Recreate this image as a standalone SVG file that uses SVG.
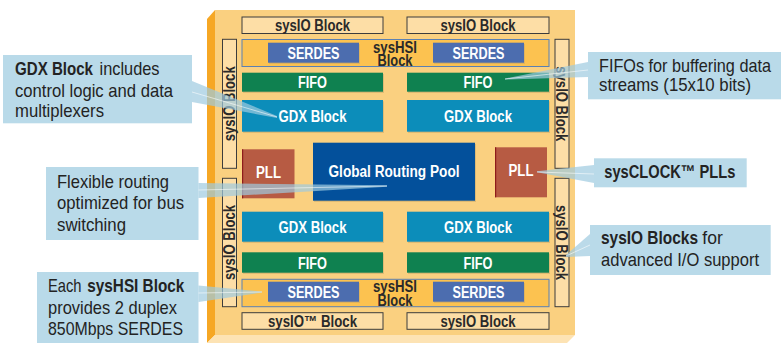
<svg xmlns="http://www.w3.org/2000/svg" width="781" height="343" viewBox="0 0 781 343">
<defs>
<style>
.lbl{font-family:"Liberation Sans",Arial,sans-serif;font-weight:bold;font-size:16px;fill:#fff;text-anchor:middle}
.dk{fill:#2a2a2a}
.call{font-family:"Liberation Sans",Arial,sans-serif;font-size:18.5px;fill:#232323}
.b{font-weight:bold}
.io{fill:#FDDEA6;stroke:#3c3c3c;stroke-width:1}
.hsi{fill:#FCC250;stroke:#5B80B2;stroke-width:1}
.serdes{fill:#4C6DAF}
.fifo{fill:#0F8150}
.gdx{fill:#0C8DBA}
.pll{fill:#B75B43}
.grp{fill:#03509B}
.cbox{fill:#B9DAE9}
.wedge{fill:#9ECAE0;opacity:0.7}
.wl{stroke:#fff;stroke-width:0.8;opacity:0.7;fill:none}
.sh{fill:#C9A868;opacity:0.55}
</style>
</defs>
<rect width="781" height="343" fill="#fff"/>
<g id="chip">
<polygon points="215,10 575,10 575,335 215,335" fill="#FAD080"/>
<polygon points="207,19 215,10 215,335 207,343" fill="#F6A724"/>
<polygon points="207,343 215,335 575,335 567,343" fill="#FDE3B4"/>
</g>
<g id="sysio-top-left"><rect class="io" x="242" y="17" width="141" height="16.5"/><text class="lbl dk" x="312.5" y="31" textLength="75" lengthAdjust="spacingAndGlyphs">sysIO Block</text></g>
<g id="sysio-top-right"><rect class="io" x="407" y="17" width="142" height="16.5"/><text class="lbl dk" x="478" y="31" textLength="75" lengthAdjust="spacingAndGlyphs">sysIO Block</text></g>
<g id="syshsi-top">
<rect class="hsi" x="242" y="39.5" width="307" height="27"/>
<rect class="sh" x="269" y="44" width="91" height="20"/>
<rect class="serdes" x="268" y="42.7" width="91" height="20"/>
<text class="lbl" x="313.5" y="58.5" textLength="52" lengthAdjust="spacingAndGlyphs">SERDES</text>
<rect class="sh" x="434" y="44" width="91" height="20"/>
<rect class="serdes" x="433" y="42.7" width="91" height="20"/>
<text class="lbl" x="478.5" y="58.5" textLength="52" lengthAdjust="spacingAndGlyphs">SERDES</text>
<text class="lbl dk" x="395" y="52.5" textLength="44" lengthAdjust="spacingAndGlyphs">sysHSI</text>
<text class="lbl dk" x="395" y="65.5" textLength="35" lengthAdjust="spacingAndGlyphs">Block</text>
</g>
<g id="fifo-top-left"><rect class="sh" x="243" y="74" width="141" height="19"/><rect class="fifo" x="242" y="72.7" width="141" height="19"/><text class="lbl" x="312.5" y="88" textLength="29" lengthAdjust="spacingAndGlyphs">FIFO</text></g>
<g id="fifo-top-right"><rect class="sh" x="408" y="74" width="142" height="19"/><rect class="fifo" x="407" y="72.7" width="142" height="19"/><text class="lbl" x="478" y="88" textLength="29" lengthAdjust="spacingAndGlyphs">FIFO</text></g>
<g id="gdx-top-left"><rect class="sh" x="243" y="101.3" width="141" height="31.7"/><rect class="gdx" x="242" y="100" width="141" height="31.7"/><text class="lbl" x="312.5" y="121.5" textLength="68" lengthAdjust="spacingAndGlyphs">GDX Block</text></g>
<g id="gdx-top-right"><rect class="sh" x="408" y="101.3" width="142" height="31.7"/><rect class="gdx" x="407" y="100" width="142" height="31.7"/><text class="lbl" x="478" y="121.5" textLength="68" lengthAdjust="spacingAndGlyphs">GDX Block</text></g>
<g id="pll-left"><rect class="pll" x="242" y="149.3" width="52.5" height="49"/><rect x="242" y="149.3" width="1.2" height="49" fill="#8E1B1B"/><text class="lbl" x="268.5" y="178" textLength="25" lengthAdjust="spacingAndGlyphs">PLL</text></g>
<g id="global-routing-pool"><rect class="sh" x="314" y="144" width="162" height="58"/><rect class="grp" x="313" y="142.7" width="162" height="58"/><text class="lbl" x="394" y="177" textLength="131" lengthAdjust="spacingAndGlyphs">Global Routing Pool</text></g>
<g id="pll-right"><rect class="pll" x="495" y="147.3" width="52" height="50"/><rect x="495" y="147.3" width="1.2" height="50" fill="#8E1B1B"/><text class="lbl" x="521" y="176" textLength="25" lengthAdjust="spacingAndGlyphs">PLL</text></g>
<g id="gdx-bottom-left"><rect class="sh" x="243" y="213" width="141" height="30"/><rect class="gdx" x="242" y="211.7" width="141" height="30"/><text class="lbl" x="312.5" y="232.5" textLength="68" lengthAdjust="spacingAndGlyphs">GDX Block</text></g>
<g id="gdx-bottom-right"><rect class="sh" x="408" y="213" width="142" height="30"/><rect class="gdx" x="407" y="211.7" width="142" height="30"/><text class="lbl" x="478" y="232.5" textLength="68" lengthAdjust="spacingAndGlyphs">GDX Block</text></g>
<g id="fifo-bottom-left"><rect class="sh" x="243" y="253.6" width="141" height="20.4"/><rect class="fifo" x="242" y="252.3" width="141" height="20.4"/><text class="lbl" x="312.5" y="268.5" textLength="29" lengthAdjust="spacingAndGlyphs">FIFO</text></g>
<g id="fifo-bottom-right"><rect class="sh" x="408" y="253.6" width="142" height="20.4"/><rect class="fifo" x="407" y="252.3" width="142" height="20.4"/><text class="lbl" x="478" y="268.5" textLength="29" lengthAdjust="spacingAndGlyphs">FIFO</text></g>
<g id="syshsi-bottom">
<rect class="hsi" x="242" y="279.3" width="307" height="27.4"/>
<rect class="sh" x="269" y="283" width="91" height="20"/>
<rect class="serdes" x="268" y="281.7" width="91" height="20"/>
<text class="lbl" x="313.5" y="297.5" textLength="52" lengthAdjust="spacingAndGlyphs">SERDES</text>
<rect class="sh" x="434" y="283" width="91" height="20"/>
<rect class="serdes" x="433" y="281.7" width="91" height="20"/>
<text class="lbl" x="478.5" y="297.5" textLength="52" lengthAdjust="spacingAndGlyphs">SERDES</text>
<text class="lbl dk" x="395" y="292" textLength="44" lengthAdjust="spacingAndGlyphs">sysHSI</text>
<text class="lbl dk" x="395" y="305.5" textLength="35" lengthAdjust="spacingAndGlyphs">Block</text>
</g>
<g id="sysio-bottom-left"><rect class="io" x="242" y="312.7" width="141" height="16.6"/><text class="lbl dk" x="312.5" y="327" textLength="89" lengthAdjust="spacingAndGlyphs">sysIO™ Block</text></g>
<g id="sysio-bottom-right"><rect class="io" x="407" y="312.7" width="142" height="16.6"/><text class="lbl dk" x="478" y="327" textLength="75" lengthAdjust="spacingAndGlyphs">sysIO Block</text></g>
<g id="sysio-left-top"><rect class="io" x="222.5" y="39.3" width="14" height="129"/><text class="lbl dk" transform="translate(229.5,103.8) rotate(-90)" x="0" y="5.7" textLength="75" lengthAdjust="spacingAndGlyphs">sysIO Block</text></g>
<g id="sysio-left-bottom"><rect class="io" x="222.5" y="178.3" width="14" height="128.4"/><text class="lbl dk" transform="translate(229.5,242.5) rotate(-90)" x="0" y="5.7" textLength="75" lengthAdjust="spacingAndGlyphs">sysIO Block</text></g>
<g id="sysio-right-top"><rect class="io" x="555" y="39.3" width="14" height="129"/><text class="lbl dk" transform="translate(562,103.8) rotate(90)" x="0" y="5.7" textLength="75" lengthAdjust="spacingAndGlyphs">sysIO Block</text></g>
<g id="sysio-right-bottom"><rect class="io" x="555" y="178.3" width="14" height="128.4"/><text class="lbl dk" transform="translate(562,242.5) rotate(90)" x="0" y="5.7" textLength="75" lengthAdjust="spacingAndGlyphs">sysIO Block</text></g>
<g id="callout-gdx"><rect class="cbox" x="3" y="55" width="189" height="68.3"/>
<text class="call b" x="15" y="75" textLength="78" lengthAdjust="spacingAndGlyphs">GDX Block</text>
<text class="call" x="99.5" y="75" textLength="60" lengthAdjust="spacingAndGlyphs">includes</text>
<text class="call" x="15" y="96.5" textLength="158" lengthAdjust="spacingAndGlyphs">control logic and data</text>
<text class="call" x="15" y="117" textLength="89" lengthAdjust="spacingAndGlyphs">multiplexers</text></g>
<g id="callout-routing"><rect class="cbox" x="46" y="167" width="152.5" height="73"/>
<text class="call" x="57" y="187.5" textLength="112" lengthAdjust="spacingAndGlyphs">Flexible routing</text>
<text class="call" x="57" y="209" textLength="127" lengthAdjust="spacingAndGlyphs">optimized for bus</text>
<text class="call" x="57" y="230.5" textLength="69" lengthAdjust="spacingAndGlyphs">switching</text></g>
<g id="callout-syshsi"><rect class="cbox" x="37" y="272" width="161.5" height="71"/>
<text class="call" x="48" y="292" textLength="33.5" lengthAdjust="spacingAndGlyphs">Each</text>
<text class="call b" x="87.3" y="292" textLength="97" lengthAdjust="spacingAndGlyphs">sysHSI Block</text>
<text class="call" x="48" y="313.5" textLength="129" lengthAdjust="spacingAndGlyphs">provides 2 duplex</text>
<text class="call" x="48" y="335" textLength="135" lengthAdjust="spacingAndGlyphs">850Mbps SERDES</text></g>
<g id="callout-fifos"><rect class="cbox" x="588" y="52" width="193" height="47.3"/>
<text class="call" x="599" y="72" textLength="172" lengthAdjust="spacingAndGlyphs">FIFOs for buffering data</text>
<text class="call" x="599" y="90.5" textLength="152" lengthAdjust="spacingAndGlyphs">streams (15x10 bits)</text></g>
<g id="callout-sysclock"><rect class="cbox" x="594" y="158.3" width="152.7" height="29"/>
<text class="call b" x="604.3" y="178.3" textLength="131" lengthAdjust="spacingAndGlyphs">sysCLOCK™ PLLs</text></g>
<g id="callout-sysio"><rect class="cbox" x="590" y="225" width="180.7" height="50"/>
<text class="call b" x="601" y="244" textLength="97" lengthAdjust="spacingAndGlyphs">sysIO Blocks</text>
<text class="call" x="702.3" y="244" textLength="20.5" lengthAdjust="spacingAndGlyphs">for</text>
<text class="call" x="601" y="266" textLength="158" lengthAdjust="spacingAndGlyphs">advanced I/O support</text></g>
<g id="connectors">
<polygon class="wedge" points="192,81 277,116 277,118 192,102"/><line class="wl" x1="192" y1="92" x2="277" y2="117"/>
<polygon class="wedge" points="198.5,183 387,185.3 387,186.7 198.5,198"/><line class="wl" x1="198.5" y1="190" x2="387" y2="186"/>
<polygon class="wedge" points="198.5,285.5 262,291.5 262,292.5 198.5,302"/><line class="wl" x1="198.5" y1="293" x2="262" y2="292"/>
<polygon class="wedge" points="588,62 505,78.5 505,79.5 588,77"/><line class="wl" x1="588" y1="70" x2="505" y2="79"/>
<polygon class="wedge" points="594,165 537,171.3 537,172.3 594,183"/><line class="wl" x1="594" y1="174" x2="537" y2="172"/>
<polygon class="wedge" points="590,234 566,255 566,257 590,256"/><line class="wl" x1="590" y1="245" x2="566" y2="256"/>
</g>
</svg>
